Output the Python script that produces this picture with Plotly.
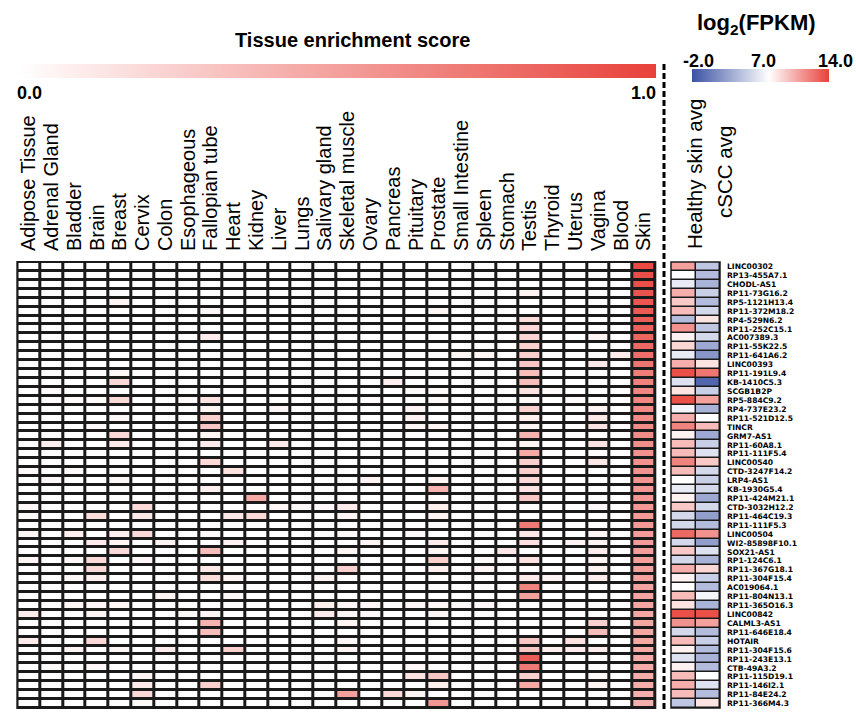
import numpy as np
import plotly.graph_objects as go

# ---------------------------------------------------------------- data
GENES = [
    "LINC00302", "RP13-455A7.1", "CHODL-AS1", "RP11-73G16.2", "RP5-1121H13.4",
    "RP11-372M18.2", "RP4-529N6.2", "RP11-252C15.1", "AC007389.3", "RP11-55K22.5",
    "RP11-641A6.2", "LINC00393", "RP11-191L9.4", "KB-1410C5.3", "SCGB1B2P",
    "RP5-884C9.2", "RP4-737E23.2", "RP11-521D12.5", "TINCR", "GRM7-AS1",
    "RP11-60A8.1", "RP11-111F5.4", "LINC00540", "CTD-3247F14.2", "LRP4-AS1",
    "KB-1930G5.4", "RP11-424M21.1", "CTD-3032H12.2", "RP11-464C19.3", "RP11-111F5.3",
    "LINC00504", "WI2-85898F10.1", "SOX21-AS1", "RP1-124C6.1", "RP11-367G18.1",
    "RP11-304F15.4", "AC019064.1", "RP11-804N13.1", "RP11-365O16.3", "LINC00842",
    "CALML3-AS1", "RP11-646E18.4", "HOTAIR", "RP11-304F15.6", "RP11-243E13.1",
    "CTB-49A3.2", "RP11-115D19.1", "RP11-146I2.1", "RP11-84E24.2", "RP11-366M4.3",
]

TISSUES = [
    "Adipose Tissue", "Adrenal Gland", "Bladder", "Brain", "Breast", "Cervix",
    "Colon", "Esophageous", "Fallopian tube", "Heart", "Kidney", "Liver", "Lungs",
    "Salivary gland", "Skeletal muscle", "Ovary", "Pancreas", "Pituitary",
    "Prostate", "Small Intestine", "Spleen", "Stomach", "Testis", "Thyroid",
    "Uterus", "Vagina", "Blood", "Skin",
]

# tissue enrichment score of each gene (one list per tissue, genes in order)
ADIPOSE = [0, 0, 0, 0, 0, 0, 0, 0, 0, 0,
           0, 0, 0, 0, 0, 0, 0, 0, 0, 0,
           0, 0, 0, .03, 0, 0, 0, .04, .03, 0,
           .05, 0, 0, .05, 0, 0, 0, 0, 0, .10,
           0, 0, .10, 0, 0, 0, 0, 0, 0, 0]
ADRENAL = [0, 0, 0, 0, 0, 0, 0, 0, 0, 0,
           0, 0, 0, 0, .02, .02, 0, 0, 0, 0,
           .08, 0, 0, 0, .04, 0, 0, 0, 0, 0,
           0, 0, 0, 0, 0, 0, 0, 0, 0, 0,
           0, 0, 0, 0, 0, .03, 0, 0, 0, 0]
BLADDER = [0, 0, 0, 0, 0, 0, 0, 0, 0, 0,
           0, 0, 0, 0, 0, .02, 0, 0, 0, 0,
           0, 0, 0, .03, 0, 0, 0, 0, 0, 0,
           .08, 0, 0, .04, 0, .03, 0, 0, .04, 0,
           0, 0, 0, .06, 0, 0, 0, 0, 0, 0]
BRAIN = [0, 0, 0, 0, 0, 0, 0, 0, 0, 0,
         0, 0, 0, 0, 0, .02, 0, 0, .03, 0,
         0, 0, 0, 0, 0, 0, 0, 0, .18, 0,
         0, .10, 0, .20, .20, .08, 0, 0, .04, .05,
         0, 0, .20, 0, 0, .04, 0, 0, 0, 0]
BREAST = [0, 0, 0, 0, .05, 0, 0, 0, 0, 0,
          0, 0, .03, .20, 0, .20, 0, .04, 0, .20,
          .10, 0, 0, 0, .03, 0, 0, 0, 0, 0,
          .08, .05, .20, 0, 0, 0, 0, 0, .04, 0,
          0, 0, 0, .05, 0, 0, 0, 0, 0, 0]
CERVIX = [0, 0, 0, 0, 0, 0, 0, 0, 0, 0,
          0, 0, 0, 0, 0, 0, 0, 0, 0, 0,
          0, 0, 0, 0, 0, 0, 0, .20, .12, 0,
          .20, 0, 0, .04, 0, 0, 0, 0, 0, 0,
          0, 0, 0, 0, 0, 0, .05, .10, .20, .03]
COLON = [0, 0, 0, 0, 0, 0, 0, 0, 0, 0,
         0, 0, 0, 0, 0, 0, 0, 0, 0, 0,
         0, 0, 0, 0, 0, 0, 0, 0, 0, 0,
         0, .06, 0, 0, 0, 0, 0, .06, 0, 0,
         0, 0, 0, .10, 0, 0, 0, 0, 0, 0]
ESOPHAGEOUS = [0, 0, 0, 0, 0, 0, 0, 0, 0, 0,
               0, 0, 0, 0, 0, .02, 0, 0, 0, 0,
               0, 0, 0, 0, 0, 0, 0, 0, 0, 0,
               0, 0, 0, 0, 0, 0, 0, 0, 0, .03,
               0, 0, 0, 0, 0, 0, 0, 0, 0, 0]
FALLOPIAN = [0, 0, 0, 0, 0, .04, 0, 0, .10, 0,
             0, 0, 0, 0, 0, .15, .05, .25, .30, .05,
             .10, 0, .20, 0, 0, .08, 0, 0, 0, 0,
             .03, 0, .35, 0, .12, .18, 0, 0, 0, .05,
             .40, .35, 0, 0, 0, 0, 0, .25, 0, 0]
HEART = [0, 0, 0, 0, 0, 0, 0, 0, 0, 0,
         0, 0, 0, 0, 0, 0, 0, 0, 0, 0,
         0, 0, 0, .15, 0, 0, 0, 0, .12, 0,
         0, .06, 0, 0, 0, .05, 0, .03, 0, 0,
         0, 0, 0, .25, 0, 0, 0, 0, 0, 0]
KIDNEY = [0, 0, 0, 0, 0, 0, 0, 0, 0, 0,
          0, 0, 0, 0, 0, 0, 0, 0, 0, 0,
          0, 0, 0, 0, 0, 0, .45, 0, .20, 0,
          0, 0, 0, 0, 0, 0, 0, 0, 0, 0,
          0, 0, 0, 0, 0, 0, 0, 0, 0, 0]
LIVER = [0, 0, 0, 0, 0, 0, 0, 0, 0, 0,
         0, 0, 0, 0, 0, 0, .04, 0, 0, 0,
         .10, 0, 0, 0, 0, 0, 0, .04, 0, 0,
         0, 0, 0, 0, 0, 0, 0, 0, 0, 0,
         0, 0, 0, 0, 0, 0, 0, 0, 0, 0]
LUNGS = [0, 0, 0, 0, 0, 0, 0, 0, 0, 0,
         0, 0, 0, 0, 0, 0, 0, 0, 0, 0,
         0, 0, 0, 0, 0, 0, 0, .03, 0, 0,
         0, 0, 0, 0, 0, 0, 0, 0, 0, 0,
         0, 0, 0, 0, 0, 0, 0, 0, 0, 0]
SALIVARY = [0, 0, 0, 0, 0, 0, 0, 0, 0, 0,
            0, 0, 0, 0, 0, 0, 0, 0, 0, 0,
            0, 0, 0, 0, 0, 0, 0, .04, 0, 0,
            0, 0, 0, 0, 0, .06, 0, 0, .08, .10,
            0, 0, 0, 0, 0, 0, 0, 0, 0, 0]
SKELETAL = [0, 0, 0, 0, 0, 0, 0, 0, 0, 0,
            0, 0, 0, 0, 0, 0, 0, 0, 0, 0,
            0, 0, 0, 0, 0, 0, 0, .10, .05, 0,
            .03, 0, .05, 0, .25, 0, 0, 0, .04, .04,
            .06, 0, .04, .06, 0, 0, 0, 0, .50, 0]
OVARY = [0, 0, 0, 0, 0, 0, 0, 0, 0, 0,
         0, 0, 0, 0, 0, .02, 0, 0, 0, 0,
         0, 0, 0, 0, .06, 0, 0, 0, 0, 0,
         0, .05, 0, 0, 0, 0, 0, 0, .04, .03,
         0, 0, 0, 0, 0, 0, 0, 0, 0, 0]
PANCREAS = [0, 0, 0, 0, 0, 0, 0, 0, 0, 0,
            0, 0, 0, .08, 0, 0, 0, 0, 0, 0,
            0, 0, 0, 0, 0, 0, 0, 0, 0, 0,
            0, 0, 0, 0, 0, 0, 0, 0, 0, 0,
            0, 0, 0, 0, 0, 0, 0, 0, .20, 0]
PITUITARY = [0, 0, 0, 0, 0, 0, 0, 0, 0, 0,
             0, 0, 0, 0, .03, 0, .06, .07, .05, 0,
             0, 0, 0, 0, 0, 0, 0, 0, 0, 0,
             .03, 0, 0, 0, 0, 0, 0, 0, .04, 0,
             0, 0, 0, 0, 0, .04, .15, 0, .06, 0]
PROSTATE = [0, 0, 0, 0, 0, .05, 0, 0, 0, 0,
            0, 0, 0, 0, .03, .03, 0, 0, .05, 0,
            0, 0, 0, 0, .05, .40, 0, .08, .06, 0,
            0, .10, .05, .25, .08, 0, 0, 0, .04, .05,
            0, 0, 0, 0, 0, 0, .30, .08, 0, .55]
SMALL_INTESTINE = [0, 0, 0, 0, 0, 0, 0, 0, 0, 0,
                   .05, 0, 0, 0, 0, 0, 0, 0, 0, 0,
                   0, 0, 0, 0, 0, 0, 0, 0, 0, 0,
                   0, 0, 0, 0, 0, 0, 0, 0, .03, 0,
                   0, 0, 0, 0, 0, 0, 0, 0, 0, 0]
SPLEEN = [0, 0, 0, 0, 0, 0, 0, 0, 0, 0,
          .05, 0, 0, 0, 0, 0, 0, 0, 0, 0,
          0, 0, 0, 0, 0, 0, 0, 0, 0, 0,
          0, 0, 0, .03, .05, 0, 0, 0, .04, 0,
          0, 0, 0, 0, 0, 0, 0, 0, 0, 0]
STOMACH = [0, 0, 0, 0, 0, 0, 0, 0, 0, 0,
           0, 0, 0, 0, 0, 0, 0, 0, 0, 0,
           0, 0, 0, 0, 0, 0, 0, 0, 0, 0,
           0, 0, .12, 0, 0, 0, 0, 0, 0, 0,
           0, 0, 0, 0, 0, 0, 0, 0, 0, 0]
TESTIS = [0, 0, 0, .06, 0, 0, .18, .20, .22, .25,
          .25, .30, .35, .35, .15, .03, .25, .08, .05, .40,
          .05, .45, .25, .25, .20, .15, .30, 0, 0, .70,
          .12, .15, 0, .15, 0, .10, .65, .50, 0, 0,
          0, 0, .30, .30, .85, .70, .25, .45, 0, 0]
THYROID = [0, 0, 0, 0, 0, 0, 0, 0, 0, 0,
           0, 0, 0, 0, .03, 0, 0, 0, 0, 0,
           0, 0, 0, 0, 0, 0, 0, 0, 0, 0,
           0, 0, 0, 0, 0, .06, 0, 0, 0, 0,
           0, 0, 0, .08, 0, 0, 0, 0, 0, 0]
UTERUS = [0, 0, 0, 0, 0, 0, 0, 0, 0, 0,
          0, 0, 0, 0, 0, .02, 0, 0, 0, 0,
          0, 0, 0, 0, 0, 0, 0, 0, 0, 0,
          0, .06, 0, 0, 0, 0, 0, 0, 0, 0,
          0, 0, .15, .10, 0, 0, 0, 0, 0, 0]
VAGINA = [0, 0, 0, 0, 0, 0, 0, 0, .06, 0,
          0, .12, 0, 0, 0, 0, .06, .12, .15, 0,
          .15, 0, .12, 0, 0, 0, 0, .04, 0, 0,
          .05, .05, .10, .05, .08, .10, 0, 0, 0, 0,
          .25, .35, 0, .10, 0, 0, .04, .06, 0, 0]
BLOOD = [0, 0, 0, 0, 0, 0, 0, 0, 0, 0,
         .10, 0, 0, 0, 0, 0, 0, 0, 0, 0,
         0, 0, 0, 0, 0, 0, 0, 0, 0, 0,
         0, 0, 0, 0, 0, 0, 0, 0, 0, 0,
         0, 0, 0, 0, 0, 0, 0, 0, 0, 0]
SKIN = [.95, .93, .92, .90, .89, .87, .85, .83, .81, .79,
        .76, .72, .68, .66, .64, .63, .62, .61, .60, .60,
        .59, .58, .58, .57, .56, .55, .55, .54, .53, .53,
        .52, .52, .51, .50, .50, .49, .48, .48, .47, .47,
        .46, .46, .45, .45, .44, .44, .43, .43, .42, .42]

# average expression, log2(FPKM)
EXPR_COLUMNS = ["Healthy skin avg", "cSCC avg"]
HEALTHY_SKIN = [10.5, 7.0, 6.0, 10.0, 9.0, 9.5, 3.5, 11.0, 7.5, 8.5,
                6.0, 10.0, 13.5, 5.5, 8.0, 13.5, 6.5, 10.0, 11.5, 7.5,
                9.5, 9.5, 11.5, 9.5, 7.0, 6.0, 7.5, 9.0, 5.0, 5.0,
                12.5, 5.0, 9.0, 5.0, 10.0, 7.5, 7.0, 9.5, 8.0, 13.5,
                11.0, 5.0, 9.5, 7.5, 5.5, 7.5, 9.5, 10.0, 9.5, 4.0]
CSCC = [4.0, 3.5, 3.0, 4.5, 3.5, 5.0, 8.0, 4.0, 5.0, 2.5,
        1.5, 8.0, 12.0, -1.0, 4.5, 10.5, 3.0, 7.0, 9.5, 2.5,
        4.5, 5.5, 9.0, 5.0, 4.5, 5.0, 2.5, 5.0, 2.0, 3.5,
        11.0, 2.0, 5.5, 3.0, 8.5, 4.5, 3.5, 6.5, 3.0, 13.5,
        10.5, 3.5, 4.5, 3.5, 3.0, 3.5, 7.0, 5.5, 3.5, 8.0]

SCORE_TICKS = ["0.0", "1.0"]
EXPR_TICKS = ["-2.0", "7.0", "14.0"]

# ---------------------------------------------------------------- layout helpers
W, H = 856, 714
FONT = "Liberation Sans, Arial, sans-serif"


def fx(px):
    return px / W


def fy(px):
    return 1 - px / H


score_cols = [ADIPOSE, ADRENAL, BLADDER, BRAIN, BREAST, CERVIX, COLON,
              ESOPHAGEOUS, FALLOPIAN, HEART, KIDNEY, LIVER, LUNGS, SALIVARY,
              SKELETAL, OVARY, PANCREAS, PITUITARY, PROSTATE, SMALL_INTESTINE,
              SPLEEN, STOMACH, TESTIS, THYROID, UTERUS, VAGINA, BLOOD, SKIN]
z_score = np.array(score_cols).T
z_expr = np.column_stack([HEALTHY_SKIN, CSCC])

RED = "#e8413a"
BLUE = "#3b53a4"
expr_min, expr_max, expr_mid = float(EXPR_TICKS[0]), float(EXPR_TICKS[-1]), float(EXPR_TICKS[1])
mid_pos = (expr_mid - expr_min) / (expr_max - expr_min)

fig = go.Figure()

fig.add_trace(go.Heatmap(
    z=z_score, x=TISSUES, y=GENES, xaxis="x", yaxis="y",
    zmin=0, zmax=1, colorscale=[[0, "#ffffff"], [1, RED]],
    xgap=3, ygap=3, hoverongaps=False,
    colorbar=dict(orientation="h", x=fx(336.5), xanchor="center",
                  y=fy(64), yanchor="top", len=639, lenmode="pixels",
                  thickness=14, outlinewidth=0, showticklabels=False,
                  ticks="", xpad=0, ypad=0),
))

fig.add_trace(go.Heatmap(
    z=z_expr, x=EXPR_COLUMNS, y=GENES, xaxis="x2", yaxis="y2",
    zmin=expr_min, zmax=expr_max,
    colorscale=[[0, BLUE], [mid_pos, "#ffffff"], [1, RED]],
    xgap=1.5, ygap=1.5,
    colorbar=dict(orientation="h", x=fx(760.5), xanchor="center",
                  y=fy(69), yanchor="top", len=137, lenmode="pixels",
                  thickness=13, outlinewidth=0, showticklabels=False,
                  ticks="", xpad=0, ypad=0),
))

grid_top, grid_bottom = 262, 708

fig.update_layout(
    width=W, height=H,
    margin=dict(l=0, r=0, t=0, b=0, autoexpand=False),
    paper_bgcolor="white", plot_bgcolor="#1a1a1a",
    font=dict(family=FONT, color="black"),
    xaxis=dict(domain=[fx(17.3), fx(655.3)], anchor="y", side="top",
               tickmode="array", tickvals=TISSUES, ticktext=TISSUES,
               tickangle=-90, ticks="", ticklabelstandoff=10,
               tickfont=dict(size=20, family=FONT, color="black"),
               showgrid=False, zeroline=False, showline=False,
               range=[-0.5, len(TISSUES) - 0.5]),
    yaxis=dict(domain=[fy(grid_bottom), fy(grid_top)], anchor="x",
               autorange="reversed", showticklabels=False, ticks="",
               showgrid=False, zeroline=False),
    xaxis2=dict(domain=[fx(671), fx(720)], anchor="y2",
                showticklabels=False, ticks="", showgrid=False, zeroline=False),
    yaxis2=dict(domain=[fy(grid_bottom), fy(grid_top)], anchor="x2",
                side="right", autorange="reversed", ticks="",
                tickmode="array", tickvals=GENES, ticktext=GENES,
                ticklabelstandoff=6,
                tickfont=dict(size=7.6, family="DejaVu Sans", weight="bold",
                              color="black"),
                showgrid=False, zeroline=False),
)

# outer frames of the two grids
fig.add_shape(type="rect", xref="x domain", yref="y domain",
              x0=0, x1=1, y0=0, y1=1, line=dict(color="#1a1a1a", width=2))
fig.add_shape(type="rect", xref="x2 domain", yref="y2 domain",
              x0=0, x1=1, y0=0, y1=1, line=dict(color="#1a1a1a", width=1.5))

# dashed divider between the two panels
fig.add_shape(type="line", xref="paper", yref="paper",
              x0=fx(664), x1=fx(664), y0=fy(64), y1=fy(712),
              line=dict(color="black", width=3, dash="6px,3px"))

ann = dict(showarrow=False, xref="paper", yref="paper")
# score colour bar title and end labels
fig.add_annotation(text="<b>Tissue enrichment score</b>", x=fx(352), y=fy(40),
                   xanchor="center", yanchor="middle",
                   font=dict(size=20, family=FONT, color="black"), **ann)
fig.add_annotation(text=f"<b>{SCORE_TICKS[0]}</b>", x=fx(15), y=fy(93),
                   xanchor="left", yanchor="middle",
                   font=dict(size=18, family=FONT, color="black"), **ann)
fig.add_annotation(text=f"<b>{SCORE_TICKS[1]}</b>", x=fx(658), y=fy(93),
                   xanchor="right", yanchor="middle",
                   font=dict(size=18, family=FONT, color="black"), **ann)

# expression colour bar title and labels
fig.add_annotation(text="<b>log<sub>2</sub>(FPKM)</b>", x=fx(756), y=fy(24),
                   xanchor="center", yanchor="middle",
                   font=dict(size=22, family=FONT, color="black"), **ann)
for label, cx in zip(EXPR_TICKS, [698, 763, 835]):
    fig.add_annotation(text=f"<b>{label}</b>", x=fx(cx), y=fy(61),
                       xanchor="center", yanchor="middle",
                       font=dict(size=18, family=FONT, color="black"), **ann)

# headers of the expression panel
for label, cx, bottom in zip(EXPR_COLUMNS, [695, 724], [251, 220]):
    fig.add_annotation(text=label, x=fx(cx), y=fy(bottom), textangle=-90,
                       xanchor="center", yanchor="bottom",
                       font=dict(size=20.5, family=FONT, color="black"), **ann)

fig.write_html("out.html")
